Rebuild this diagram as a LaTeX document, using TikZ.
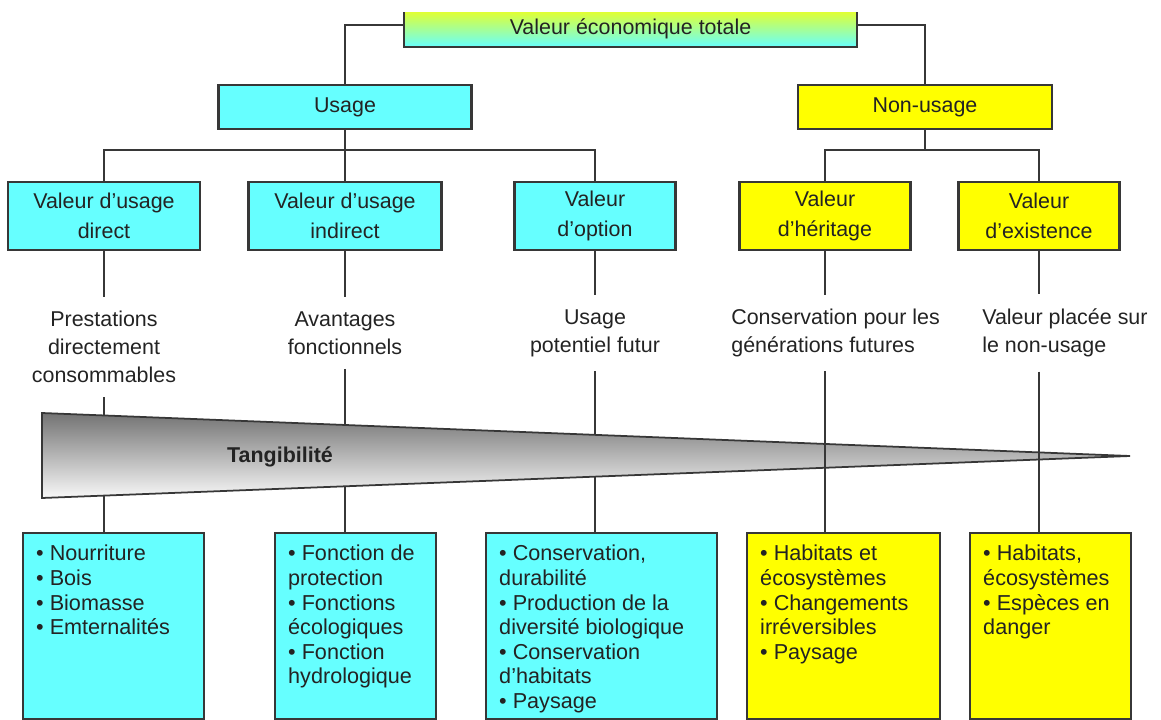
\documentclass[tikz,border=0pt]{standalone}
\usepackage{fontspec}
\setmainfont{Liberation Sans}
\definecolor{cy}{RGB}{102,255,255}
\definecolor{ye}{RGB}{255,255,0}
\definecolor{ln}{RGB}{55,55,55}
\definecolor{tx}{RGB}{35,35,35}
\definecolor{wtop}{RGB}{115,115,115}
\definecolor{wbot}{RGB}{248,248,248}
\newcommand\bxt[2]{\begin{minipage}[t][3.72cm][t]{#1}\fontsize{12.3}{14}\selectfont\raggedright\leftskip=7.5pt\vspace*{6pt}\strut#2\end{minipage}}
\begin{document}
\begin{tikzpicture}[x=0.02cm,y=-0.02cm,
  every node/.style={text=tx},
  box/.style={draw=ln, line width=1.2pt, inner sep=0pt, align=center, font=\fontsize{12.2}{17}\selectfont},
  conn/.style={draw=ln, line width=1.2pt},
  lab/.style={inner xsep=0pt, inner ysep=0.28cm, font=\fontsize{12.2}{16}\selectfont},
  bbox/.style={draw=ln, line width=1.2pt, inner sep=0pt, anchor=north west}]
\useasboundingbox (0,0) rectangle (1161,720);
\clip (0,12) rectangle (1161,720);

% top levels
\node[box, top color=ye, bottom color=cy, minimum width=9.06cm, minimum height=0.88cm, text height=11pt, text depth=0pt] (vet) at (630.5,25) {Valeur économique totale};
\node[box, fill=cy, minimum width=5.06cm, minimum height=0.88cm] (us) at (345,107) {Usage};
\node[box, fill=ye, minimum width=5.08cm, minimum height=0.88cm] (nu) at (925,107) {Non-usage};

% second level
\node[box, fill=cy, minimum width=3.84cm, minimum height=1.36cm] (d1) at (104,216) {Valeur d’usage\\direct};
\node[box, fill=cy, minimum width=3.86cm, minimum height=1.36cm] (d2) at (345,216) {Valeur d’usage\\indirect};
\node[box, fill=cy, minimum width=3.22cm, minimum height=1.36cm] (d3) at (595,216) {Valeur\\d’option};
\node[box, fill=ye, minimum width=3.42cm, minimum height=1.36cm] (d4) at (825,216) {Valeur\\d’héritage};
\node[box, fill=ye, minimum width=3.22cm, minimum height=1.36cm] (d5) at (1039,216) {Valeur\\d’existence};

\coordinate (ub) at (345,150);
\coordinate (nb) at (925,150);
\draw[conn] (vet.west) -| (us.north);
\draw[conn] (vet.east) -| (nu.north);
\draw[conn] (us.south) -- (d2.north);
\draw[conn] (d1.north) |- (ub) -| (d3.north);
\draw[conn] (nu.south) -- (nb);
\draw[conn] (d4.north) |- (nb) -| (d5.north);

% third level labels
\node[lab, align=center] (t1) at (104,347) {Prestations\\directement\\consommables};
\node[lab, align=center] (t2) at (345,333) {Avantages\\fonctionnels};
\node[lab, align=center] (t3) at (595,333) {Usage\\potentiel futur};
\node[lab, align=left, anchor=west] (t4) at (731,333) {Conservation pour les\\générations futures};
\node[lab, align=left, anchor=west] (t5) at (982,333) {Valeur placée sur\\le non-usage};

\draw[conn] (d1.south) -- (d1.south |- t1.north);
\draw[conn] (d2.south) -- (d2.south |- t2.north);
\draw[conn] (d3.south) -- (d3.south |- t3.north);
\draw[conn] (d4.south) -- (d4.south |- t4.north);
\draw[conn] (d5.south) -- (d5.south |- t5.north);

% bottom boxes
\node[bbox, fill=cy] (b1) at (22,532) {\bxt{3.62cm}{• Nourriture\\ • Bois\\ • Biomasse\\ • Emternalités}};
\node[bbox, fill=cy] (b2) at (274,532) {\bxt{3.22cm}{• Fonction de\\ protection\\ • Fonctions\\ écologiques\\ • Fonction\\ hydrologique}};
\node[bbox, fill=cy] (b3) at (485,532) {\bxt{4.62cm}{• Conservation,\\ durabilité\\ • Production de la\\ diversité biologique\\ • Conservation\\ d’habitats\\ • Paysage}};
\node[bbox, fill=ye] (b4) at (746,532) {\bxt{3.86cm}{• Habitats et\\ écosystèmes\\ • Changements\\ irréversibles\\ • Paysage}};
\node[bbox, fill=ye] (b5) at (969,532) {\bxt{3.22cm}{• Habitats,\\ écosystèmes\\ • Espèces en\\ danger}};

% tangibility wedge
\coordinate (wa) at (42,413);
\coordinate (wb) at (1130,456);
\coordinate (wc) at (42,498);
\shade[top color=wtop, bottom color=wbot] (wa) -- (wb) -- (wc) -- cycle;
\draw[draw=ln, line width=1pt, line join=miter] (wa) -- (wb) -- (wc) -- cycle;
\node[font=\bfseries\fontsize{12.2}{14}\selectfont] (tg) at (280,457) {Tangibilité};

\coordinate (w1t) at (104,415.5); \coordinate (w1b) at (104,495.6);
\coordinate (w2t) at (345,425.0); \coordinate (w2b) at (345,486.3);
\coordinate (w3t) at (595,434.9); \coordinate (w3b) at (595,476.7);
\draw[conn] (d1.south |- t1.south) -- (w1t);
\draw[conn] (w1b) -- (w1b |- b1.north);
\draw[conn] (d2.south |- t2.south) -- (w2t);
\draw[conn] (w2b) -- (w2b |- b2.north);
\draw[conn] (d3.south |- t3.south) -- (w3t);
\draw[conn] (w3b) -- (w3b |- b3.north);
\draw[conn] (d4.south |- t4.south) -- (d4.south |- b4.north);
\draw[conn] (d5.south |- t5.south) -- (d5.south |- b5.north);
\end{tikzpicture}
\end{document}
